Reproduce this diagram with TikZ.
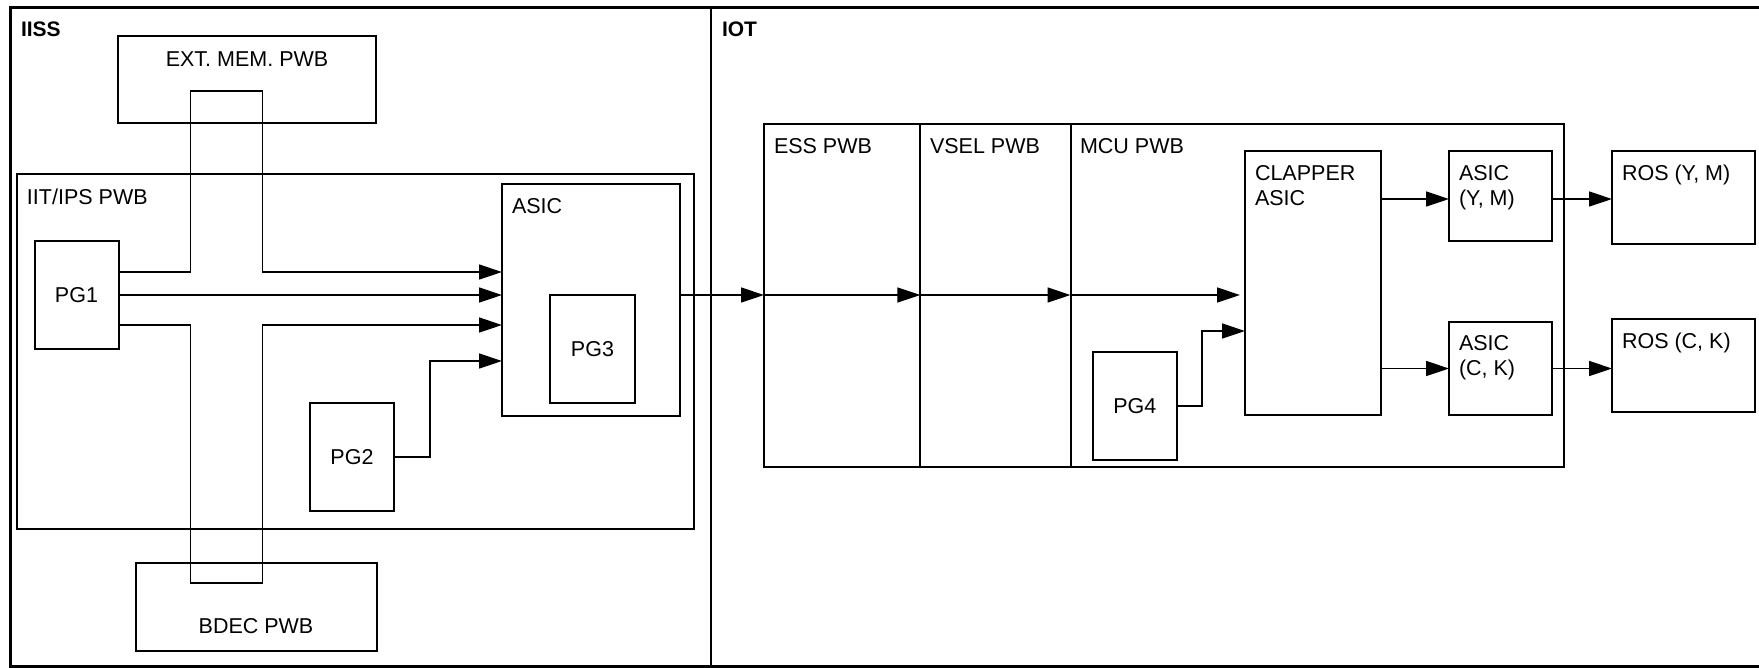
\documentclass[tikz,border=0pt]{standalone}
\usepackage{fontspec}
\setmainfont{Liberation Sans}
\usetikzlibrary{arrows.meta}
\tikzset{
  box/.style={draw, line width=2pt, inner sep=0pt, outer sep=0pt, anchor=north west},
  conn/.style={line width=1.4pt},
  arr/.style={conn, -{Triangle[length=23pt,width=15pt]}},
  lbl/.style={inner sep=0pt, outer sep=0pt, anchor=base west, font=\fontsize{21.5}{25}\selectfont},
  ttl/.style={lbl, font=\fontsize{21}{25}\selectfont\bfseries},
}
\begin{document}
\begin{tikzpicture}[x=1pt,y=-1pt, every node/.style={font=\fontsize{21.5}{25}\selectfont}]
\useasboundingbox (0,0) rectangle (1759,667);
% frame
\draw[line width=3pt] (1775,7) -- (10,7) -- (10,666) -- (1775,666);
\draw[line width=2.5pt] (711,7) -- (711,666);
\node[ttl] (liss) at (21,36) {IISS};
\node[ttl] (liot) at (722,36) {IOT};
% IISS side
\node[box, minimum width=258pt, minimum height=87pt] (extmem) at (118,36) {};
\node[lbl, anchor=base] (lextmem) at (247,66) {EXT. MEM. PWB};
\node[box, minimum width=677.5pt, minimum height=355pt] (iit) at (16.5,174) {};
\node[lbl] (liit) at (27,204) {IIT/IPS PWB};
\node[box, minimum width=177.5pt, minimum height=232pt] (asic) at (502,184) {};
\node[lbl] (lasic) at (512,213) {ASIC};
\node[box, minimum width=85pt, minimum height=108pt] (pg3) at (550,295) {PG3};
\node[box, minimum width=84pt, minimum height=108pt] (pg1) at (34.5,241) {PG1};
\node[box, minimum width=84pt, minimum height=108pt] (pg2) at (310,403) {PG2};
\node[box, minimum width=240.5pt, minimum height=88pt] (bdec) at (136,563) {};
\node[lbl, anchor=base] (lbdec) at (256,633) {BDEC PWB};
% IOT side
\node[box, minimum width=156.4pt, minimum height=343pt] (ess) at (764,124) {};
\node[box, minimum width=150.1pt, minimum height=343pt] (vsel) at (920.4,124) {};
\node[box, minimum width=493.1pt, minimum height=343pt] (mcu) at (1070.5,124) {};
\node[lbl] (less) at (774,153) {ESS PWB};
\node[lbl] (lvsel) at (930,153) {VSEL PWB};
\node[lbl] (lmcu) at (1080,153) {MCU PWB};
\node[box, minimum width=84.4pt, minimum height=108pt] (pg4) at (1092.6,352) {PG4};
\node[box, minimum width=136pt, minimum height=264pt] (clapper) at (1245,151) {};
\node[lbl] (lclapper) at (1255,180.7) {\begin{tabular}[t]{@{}l@{}}CLAPPER\\ASIC\end{tabular}};
\node[box, minimum width=103pt, minimum height=90pt] (asicym) at (1449,151) {};
\node[lbl] (lasicym) at (1459,180.7) {\begin{tabular}[t]{@{}l@{}}ASIC\\(Y, M)\end{tabular}};
\node[box, minimum width=103pt, minimum height=93pt] (asicck) at (1449,322) {};
\node[lbl] (lasicck) at (1459,350) {\begin{tabular}[t]{@{}l@{}}ASIC\\(C, K)\end{tabular}};
\node[box, minimum width=143pt, minimum height=93pt] (rosym) at (1612,151) {};
\node[lbl] (lrosym) at (1622,180) {ROS (Y, M)};
\node[box, minimum width=143pt, minimum height=93pt] (rosck) at (1612,319) {};
\node[lbl] (lrosck) at (1622,348) {ROS (C, K)};
% helper coordinates
\coordinate (lx) at (190.5,0);
\coordinate (rx) at (262.6,0);
\coordinate (topy) at (0,91);
\coordinate (boty) at (0,583);
\coordinate (y1) at (0,272);
\coordinate (y2) at (0,295);
\coordinate (y3) at (0,325);
\coordinate (y4) at (0,361);
\coordinate (px) at (430,0);
\coordinate (y9) at (0,331);
\coordinate (px4) at (1202,0);
% connectors
\draw[arr] (pg1.east |- y1) -| (lx |- topy) -| (rx |- y1) -- (asic.west |- y1);
\draw[arr] (pg1.east |- y2) -- (asic.west |- y2);
\draw[arr] (pg1.east |- y3) -| (lx |- boty) -| (rx |- y3) -- (asic.west |- y3);
\draw[arr] (pg2.east) -| (px |- y4) -- (asic.west |- y4);
\draw[arr] (asic.east |- y2) -- (ess.west |- y2);
\draw[arr] (ess.west |- y2) -- (vsel.west |- y2);
\draw[arr] (vsel.west |- y2) -- (mcu.west |- y2);
\draw[arr] (mcu.west |- y2) -- ([xshift=-5pt]clapper.west |- y2);
\draw[arr] (pg4.east) -| (px4 |- y9) -- (clapper.west |- y9);
\draw[arr] ([yshift=-3pt]clapper.east |- asicym.west) -- ([yshift=-3pt]asicym.west);
\draw[arr] (clapper.east |- asicck.west) -- (asicck.west);
\draw[arr] ([yshift=-3pt]asicym.east) -- ([yshift=-3pt]rosym.west |- asicym.east);
\draw[arr] (asicck.east) -- (rosck.west |- asicck.east);
\end{tikzpicture}
\end{document}
